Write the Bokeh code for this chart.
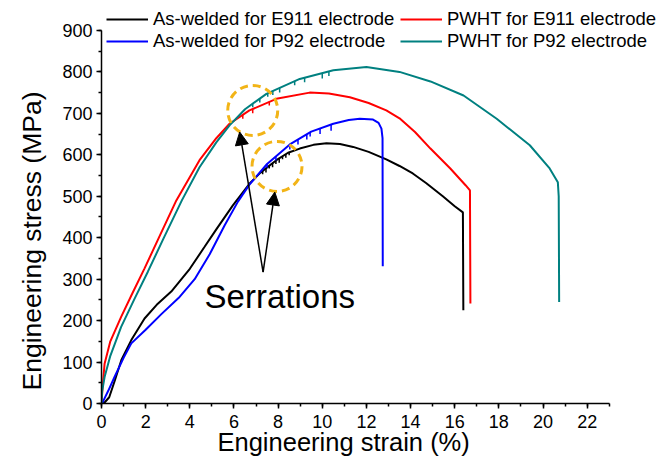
from bokeh.plotting import figure
from bokeh.models import (Range1d, SingleIntervalTicker, Legend, LegendItem,
                          Arrow, NormalHead, Label, Title)
from bokeh.embed import file_html
from bokeh.resources import INLINE

# ---- data ----
black_x = [0, 0.15, 0.35, 0.6, 0.9, 1.35, 1.95, 2.5, 3.16, 4.0, 4.67, 5.2, 5.95, 6.7, 7.2, 7.92,
           8.45, 8.98, 9.6, 10.19, 10.8, 11.4, 12.1, 12.9, 13.5, 14.1, 14.7, 15.46, 16.0, 16.37, 16.39]
black_y = [0, 3, 15, 55, 105, 153, 205, 238, 270, 325, 378, 420, 478, 530, 557, 587,
           605, 615, 624, 628, 626, 619, 607, 589, 573, 555, 532, 500, 476, 461, 225]

red_x = [0, 0.05, 0.14, 0.4, 0.89, 1.4, 1.95, 2.6, 3.39, 4.44, 5.2, 5.8, 6.7, 7.92, 9.43, 10.3,
         11.25, 12.1, 12.9, 13.5, 14.2, 14.9, 15.8, 16.5, 16.69, 16.71]
red_y = [0, 40, 96, 150, 209, 266, 326, 400, 490, 587, 640, 675, 707, 735, 750, 748,
         739, 725, 707, 688, 655, 615, 567, 526, 514, 241]

blue_x = [0, 0.06, 0.3, 0.59, 1.0, 1.35, 2.0, 2.7, 3.5, 4.22, 4.9, 5.58, 6.18, 6.7, 7.5, 8.53,
          9.5, 10.5, 11.2, 11.7, 12.3, 12.55, 12.68, 12.73, 12.74]
blue_y = [0, 4, 30, 64, 110, 145, 178, 215, 255, 300, 360, 430, 487, 528, 578, 625,
          656, 675, 684, 687, 685, 677, 663, 640, 331]

teal_x = [0, 0.03, 0.14, 0.4, 0.89, 1.5, 2.1, 2.8, 3.64, 4.44, 5.2, 5.8, 6.5, 7.47, 8.98, 10.5,
          12.0, 13.5, 14.9, 16.4, 17.9, 19.4, 20.3, 20.67, 20.71, 20.73]
teal_y = [0, 30, 64, 115, 185, 253, 318, 397, 490, 570, 630, 671, 710, 747, 783, 804,
          812, 800, 777, 743, 687, 623, 567, 534, 500, 245]

# serrations: position, curve value, dip depth (MPa)
ser_black_x = [7.3, 7.45, 7.6, 7.75, 7.9, 8.05, 8.2, 8.35, 8.5]
ser_black_y = [561, 567, 574, 580, 586, 591, 596, 602, 606]
ser_black_d = [8, 10, 7, 10, 8, 10, 7, 9, 7]

ser_red_x = [6.4, 6.85, 7.6]
ser_red_y = [696, 710, 728]
ser_red_d = [9, 10, 9]

ser_teal_x = [6.85, 7.17, 7.53, 7.76, 8.07, 8.75, 9.2, 10.0, 10.3]
ser_teal_y = [723, 736, 748, 754, 761, 778, 786, 797, 801]
ser_teal_d = [8, 10, 8, 10, 11, 10, 11, 13, 11]

ser_blue_x = [7.5, 7.9, 8.53, 8.9, 9.3, 9.45, 9.9, 10.4]
ser_blue_y = [578, 596, 625, 637, 650, 654, 664, 673]
ser_blue_d = [9, 10, 12, 12, 13, 10, 14, 15]

labels = ["As-welded for E911 electrode", "PWHT for E911 electrode",
          "As-welded for P92 electrode", "PWHT for P92 electrode"]
colors = ["#000000", "#FF0000", "#0000FF", "#008080"]

# annotation anchors (data units)
circle_x = [6.85, 7.95]
circle_y = [707, 572]
arrow_start = (7.32, 317)
arrow_ends = [(6.26, 655), (7.85, 510)]
note_text = "Serrations"
note_pos = (4.67, 259)

FONT = "Liberation Sans"

p = figure(width=661, height=472, output_backend="svg", toolbar_location=None,
           x_range=Range1d(0, 25.23), y_range=Range1d(0, 965),
           min_border_left=101, min_border_right=3, min_border_top=3, min_border_bottom=69)
p.outline_line_color = None
p.xgrid.visible = False
p.ygrid.visible = False

curves = [(black_x, black_y), (red_x, red_y), (blue_x, blue_y), (teal_x, teal_y)]
sers = [(ser_black_x, ser_black_y, ser_black_d), (ser_red_x, ser_red_y, ser_red_d),
        (ser_blue_x, ser_blue_y, ser_blue_d), (ser_teal_x, ser_teal_y, ser_teal_d)]
renderers = []
for (cx, cy), (sx, sy, sd), col in zip(curves, sers, colors):
    r = p.line(cx, cy, line_color=col, line_width=2)
    renderers.append(r)
    p.segment(x0=sx, y0=sy, x1=sx, y1=[a - b for a, b in zip(sy, sd)],
              line_color=col, line_width=1.5)

# dashed circles
p.scatter(circle_x, circle_y, marker="circle", size=50, fill_color=None,
          line_color="#F2B417", line_width=3, line_dash="8 5")

for ex, ey in arrow_ends:
    p.add_layout(Arrow(end=NormalHead(size=13, fill_color="black", line_color="black"),
                       x_start=arrow_start[0], y_start=arrow_start[1], x_end=ex, y_end=ey,
                       line_color="black", line_width=1.5))

p.add_layout(Label(x=note_pos[0], y=note_pos[1], text=note_text, text_font=FONT,
                   text_font_size="33px", text_color="black", text_baseline="alphabetic"))

# axes
for ax in (p.xaxis[0], p.yaxis[0]):
    ax.axis_line_width = 1.5
    ax.axis_line_color = "black"
    ax.major_tick_line_width = 1.5
    ax.minor_tick_line_width = 1.5
    ax.major_tick_in = 0
    ax.major_tick_out = 5
    ax.minor_tick_in = 0
    ax.minor_tick_out = 3
    ax.major_label_text_font = FONT
    ax.major_label_text_font_size = "18px"
    ax.major_label_text_color = "black"

p.xaxis[0].ticker = SingleIntervalTicker(interval=2, num_minor_ticks=2)
p.yaxis[0].ticker = SingleIntervalTicker(interval=100, num_minor_ticks=2)
p.xaxis[0].bounds = (0, 23)
p.yaxis[0].bounds = (0, 900)
p.xaxis[0].major_label_standoff = 6
p.yaxis[0].major_label_standoff = 4

xtitle = Title(text="Engineering strain (%)", align="left", offset=116, standoff=-10,
               text_font=FONT, text_font_size="25.5px", text_font_style="normal",
               text_color="black")
ytitle = Title(text="Engineering stress (MPa)", align="left", offset=13, standoff=0,
               text_font=FONT, text_font_size="26.5px", text_font_style="normal",
               text_color="black")
if "padding" in ytitle.properties():
    ytitle.padding = 13
    ytitle.offset = 0
p.add_layout(xtitle, "below")
p.add_layout(ytitle, "left")

items = [LegendItem(label=l, renderers=[r]) for l, r in zip(labels, renderers)]
legend = Legend(items=items, location="top_left", orientation="horizontal", ncols=2,
                label_text_font=FONT, label_text_font_size="18.5px", label_text_color="black",
                glyph_width=42, glyph_height=20, label_height=20, label_width=247,
                label_standoff=5, spacing=0, padding=6, margin=5,
                border_line_color=None, background_fill_alpha=0)
p.add_layout(legend)

open("out.html", "w").write(file_html(p, INLINE))
